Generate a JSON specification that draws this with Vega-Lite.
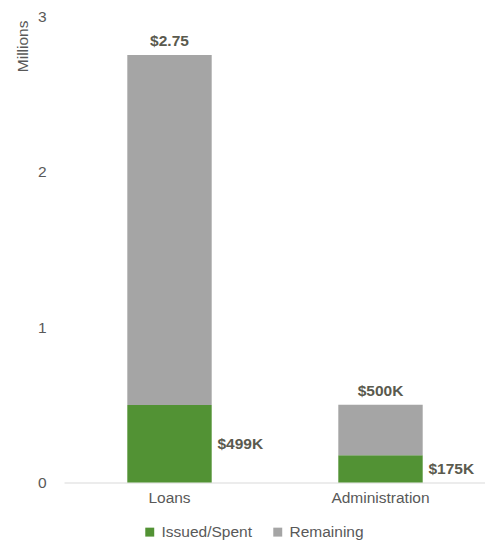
{
  "$schema": "https://vega.github.io/schema/vega-lite/v6.json",
  "autosize": {"type": "none"},
  "padding": {"left": 64, "top": 16, "right": 0, "bottom": 58.5},
  "width": 422,
  "height": 466.5,
  "background": "white",
  "config": {
    "view": {"stroke": null},
    "font": "Liberation Sans",
    "text": {"font": "Liberation Sans"}
  },
  "datasets": {
    "bars": [
      {"category": "Loans", "status": "Issued/Spent", "value": 0.499, "label": "$499K"},
      {"category": "Loans", "status": "Remaining", "value": 2.251, "label": ""},
      {"category": "Administration", "status": "Issued/Spent", "value": 0.175, "label": "$175K"},
      {"category": "Administration", "status": "Remaining", "value": 0.325, "label": ""}
    ],
    "totals": [
      {"category": "Loans", "total": 2.75, "label": "$2.75"},
      {"category": "Administration", "total": 0.5, "label": "$500K"}
    ]
  },
  "encoding": {
    "x": {
      "field": "category",
      "type": "nominal",
      "sort": ["Loans", "Administration"],
      "scale": {"paddingInner": 0.6, "paddingOuter": 0.3},
      "axis": {
        "title": null,
        "labelAngle": 0,
        "labelFontSize": 15.5,
        "labelColor": "#595959",
        "labelPadding": 8,
        "ticks": false,
        "domainColor": "#D9D9D9",
        "domainWidth": 1
      }
    }
  },
  "layer": [
    {
      "data": {"name": "bars"},
      "mark": {"type": "bar"},
      "encoding": {
        "y": {
          "field": "value",
          "type": "quantitative",
          "stack": "zero",
          "scale": {"domain": [0, 3], "nice": false},
          "axis": {
            "title": "Millions",
            "titleFontSize": 15.5,
            "titleFontWeight": "normal",
            "titleColor": "#595959",
            "titleAngle": -90,
            "titleAlign": "right",
            "titleBaseline": "middle",
            "titleX": -42,
            "titleY": 4,
            "values": [0, 1, 2, 3],
            "labelFontSize": 15.5,
            "labelColor": "#595959",
            "labelPadding": 18,
            "ticks": false,
            "domain": false,
            "grid": false
          }
        },
        "color": {
          "field": "status",
          "type": "nominal",
          "scale": {"domain": ["Issued/Spent", "Remaining"], "range": ["#529234", "#A5A5A5"]},
          "legend": {
            "title": null,
            "orient": "none",
            "direction": "horizontal",
            "legendX": 78,
            "legendY": 508,
            "padding": 0,
            "symbolType": "square",
            "symbolSize": 80,
            "symbolStrokeWidth": 0,
            "labelFontSize": 15.5,
            "labelColor": "#595959",
            "labelOffset": 4,
            "columnPadding": 18
          }
        },
        "order": {"field": "status", "sort": "ascending"}
      }
    },
    {
      "data": {"name": "totals"},
      "mark": {"type": "text", "fontWeight": "bold", "fontSize": 15.5, "color": "#5A5A4E", "baseline": "alphabetic", "dy": -9},
      "encoding": {
        "y": {"field": "total", "type": "quantitative", "scale": {"domain": [0, 3], "nice": false}, "axis": null},
        "text": {"field": "label"}
      }
    },
    {
      "data": {"name": "bars"},
      "transform": [{"filter": "datum.label != ''"}],
      "mark": {"type": "text", "fontWeight": "bold", "fontSize": 15.5, "color": "#5A5A4E", "align": "left", "baseline": "middle", "dx": 48},
      "encoding": {
        "y": {"field": "value", "type": "quantitative", "scale": {"domain": [0, 6], "nice": false}, "axis": null},
        "text": {"field": "label"}
      }
    }
  ],
  "resolve": {"scale": {"y": "independent"}}
}
